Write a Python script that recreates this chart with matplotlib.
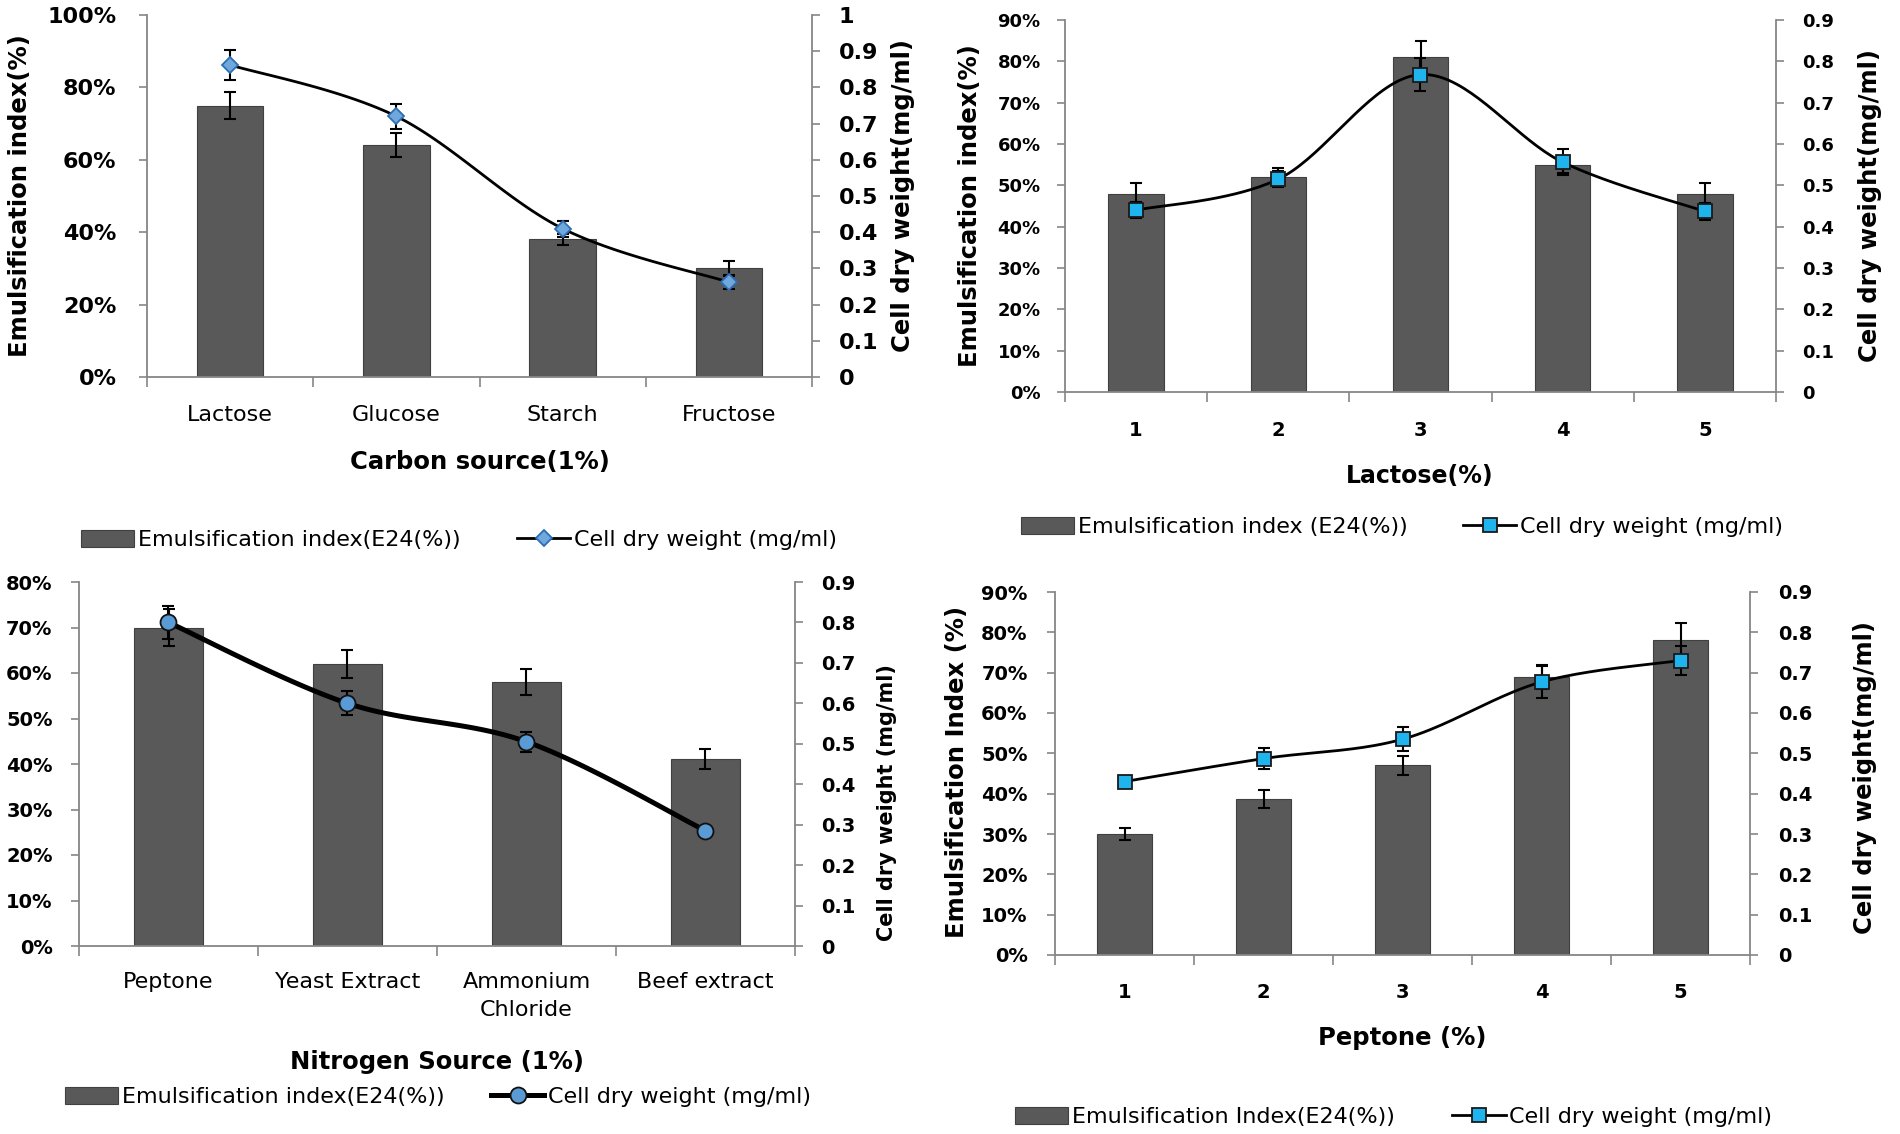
import numpy as np
import matplotlib
matplotlib.use("Agg")
import matplotlib.pyplot as plt
from matplotlib.patches import Patch
from matplotlib.lines import Line2D
from matplotlib.ticker import FixedLocator, NullFormatter, FixedFormatter

plt.rcParams['font.family'] = ['DejaVu Sans']

W, H = 1900, 1134

# ---------------- data ----------------
carbon_sources = ["Lactose", "Glucose", "Starch", "Fructose"]
carbon_ei = [75, 64, 38, 30]
carbon_ei_err = [3.8, 3.3, 1.5, 2.0]
carbon_cdw = [0.862, 0.72, 0.41, 0.262]
carbon_cdw_err = [0.042, 0.035, 0.022, 0.02]

lactose_levels = ["1", "2", "3", "4", "5"]
lactose_ei = [48, 52, 81, 55, 48]
lactose_ei_err = [2.5, 2.2, 4.0, 2.0, 2.5]
lactose_cdw = [0.44, 0.515, 0.768, 0.556, 0.437]
lactose_cdw_err = [0.02, 0.02, 0.04, 0.032, 0.02]

nitrogen_sources = ["Peptone", "Yeast Extract", "Ammonium\nChloride", "Beef extract"]
nitrogen_ei = [70, 62, 58, 41]
nitrogen_ei_err = [4.0, 3.0, 2.8, 2.2]
nitrogen_cdw = [0.80, 0.60, 0.505, 0.285]
nitrogen_cdw_err = [0.04, 0.03, 0.025, 0.01]

peptone_levels = ["1", "2", "3", "4", "5"]
peptone_ei = [30, 38.6, 47, 69, 78]
peptone_ei_err = [1.6, 2.2, 2.4, 3.0, 4.2]
peptone_cdw = [0.43, 0.487, 0.535, 0.677, 0.73]
peptone_cdw_err = [0.012, 0.025, 0.03, 0.04, 0.035]

BAR = '#595959'
BAR_EDGE = '#404040'
AXC = '#868686'

fig = plt.figure(figsize=(19, 11.34), dpi=100)


def smooth(xv, yv, n=40):
    """Excel-like smoothed line (Bezier through the points)."""
    p = np.column_stack([xv, yv]).astype(float)
    pe = np.vstack([p[0], p, p[-1]])
    out = []
    t = np.linspace(0, 1, n)[:, None]
    for i in range(len(p) - 1):
        p0, p1, p2, p3 = pe[i], pe[i + 1], pe[i + 2], pe[i + 3]
        c1 = p1 + (p2 - p0) / 6.0
        c2 = p2 - (p3 - p1) / 6.0
        seg = ((1 - t) ** 3) * p1 + 3 * ((1 - t) ** 2) * t * c1 + 3 * (1 - t) * t ** 2 * c2 + t ** 3 * p2
        out.append(seg if i == 0 else seg[1:])
    s = np.vstack(out)
    return s[:, 0], s[:, 1]


def panel(box, cats, ei, ei_err, cdw, cdw_err, lmax, lstep, rmax,
          marker, ms, mfc, mec, lw, bar_w, lsize, rsize, xsize, xbold, xpad, lpad, rpad):
    l, r, t, b = box
    ax = fig.add_axes([l / W, 1 - b / H, (r - l) / W, (b - t) / H])
    n = len(cats)
    x = np.arange(1, n + 1)
    ax.bar(x, ei, width=bar_w, color=BAR, edgecolor=BAR_EDGE, linewidth=0.8, zorder=2)
    ax.errorbar(x, ei, yerr=ei_err, fmt='none', ecolor='black', elinewidth=1.5,
                capsize=4.5, capthick=1.5, zorder=3)
    ax.set_xlim(0.5, n + 0.5)
    ax.set_ylim(0, lmax)
    ax.xaxis.set_major_locator(FixedLocator(np.arange(0.5, n + 1)))
    ax.xaxis.set_major_formatter(NullFormatter())
    ax.xaxis.set_minor_locator(FixedLocator(x))
    ax.xaxis.set_minor_formatter(FixedFormatter(cats))
    ax.tick_params(axis='x', which='major', direction='out', length=7, width=1.2, color=AXC)
    ax.tick_params(axis='x', which='minor', length=0, pad=xpad, labelsize=xsize)
    for lbl in ax.get_xticklabels(minor=True):
        lbl.set_fontweight('bold' if xbold else 'normal')
        lbl.set_linespacing(1.45)
    yt = list(range(0, lmax + 1, lstep))
    ax.set_yticks(yt)
    ax.set_yticklabels([f"{v}%" for v in yt], fontsize=lsize, fontweight='bold')
    ax.tick_params(axis='y', direction='out', length=6, width=1.2, color=AXC, pad=lpad)
    for s in ['top', 'right']:
        ax.spines[s].set_visible(False)
    for s in ['left', 'bottom']:
        ax.spines[s].set_color(AXC)
        ax.spines[s].set_linewidth(1.3)

    ax2 = ax.twinx()
    ax2.set_ylim(0, rmax)
    rt = np.round(np.arange(0, rmax + 0.001, 0.1), 1)
    ax2.set_yticks(rt)
    ax2.set_yticklabels(["0" if v == 0 else ("1" if v == 1 else f"{v:.1f}") for v in rt],
                        fontsize=rsize, fontweight='bold')
    ax2.tick_params(axis='y', direction='out', length=6, width=1.2, color=AXC, pad=rpad)
    for s in ['top', 'left', 'bottom']:
        ax2.spines[s].set_visible(False)
    ax2.spines['right'].set_color(AXC)
    ax2.spines['right'].set_linewidth(1.3)
    xs, ys = smooth(x, cdw)
    ax2.plot(xs, ys, color='black', lw=lw, zorder=3, solid_capstyle='round')
    ax2.errorbar(x, cdw, yerr=cdw_err, fmt='none', ecolor='black', elinewidth=1.5,
                 capsize=4.5, capthick=1.5, zorder=4)
    ax2.plot(x, cdw, linestyle='none', marker=marker, ms=ms, mfc=mfc, mec=mec, mew=1.3, zorder=5)
    return ax, ax2


def ylab(x, y, text, size):
    fig.text(x / W, 1 - y / H, text, rotation=90, ha='center', va='center',
             fontsize=size, fontweight='bold')


def xlab(x, y, text, size):
    fig.text(x / W, 1 - y / H, text, ha='center', va='center', fontsize=size, fontweight='bold')


def legend(x0, yc, marker, ms, mfc, mec, lw, t1, t2, colsp):
    handles = [Patch(facecolor=BAR, edgecolor=BAR_EDGE, linewidth=0.8),
               Line2D([], [], color='black', lw=lw, marker=marker, ms=ms, mfc=mfc, mec=mec, mew=1.3)]
    fig.legend(handles, [t1, t2], loc='center left', bbox_to_anchor=(x0 / W, 1 - yc / H),
               bbox_transform=fig.transFigure, ncol=2, frameon=False, fontsize=16,
               handlelength=2.4, handletextpad=0.15, columnspacing=colsp,
               borderpad=0, borderaxespad=0, handleheight=0.8)


# ---------------- Panel 1: carbon source ----------------
panel((147, 812, 15, 377), carbon_sources, carbon_ei, carbon_ei_err, carbon_cdw, carbon_cdw_err,
      100, 20, 1.0, 'D', 8.5, '#6FA8DC', '#2E6DB4', 2.0, 0.40, 16, 16, 16, False, 20, 16, 13)
ylab(20, 196, "Emulsification index(%)", 17.5)
ylab(903, 196, "Cell dry weight(mg/ml)", 17.5)
xlab(480, 462, "Carbon source(1%)", 17.5)
legend(81, 540, 'D', 8.5, '#6FA8DC', '#2E6DB4', 2.0,
       "Emulsification index(E24(%))", "Cell dry weight (mg/ml)", 2.55)

# ---------------- Panel 2: lactose ----------------
panel((1065, 1776, 20, 392), lactose_levels, lactose_ei, lactose_ei_err, lactose_cdw, lactose_cdw_err,
      90, 10, 0.9, 's', 10.5, '#1FB4EE', '#1a1a1a', 2.0, 0.39, 13, 13, 14, True, 21, 11.5, 13)
ylab(970, 206, "Emulsification index(%)", 17.5)
ylab(1870, 205, "Cell dry weight(mg/ml)", 17.5)
xlab(1420, 476, "Lactose(%)", 17)
legend(1021, 527, 's', 10.5, '#1FB4EE', '#1a1a1a', 2.0,
       "Emulsification index (E24(%))", "Cell dry weight (mg/ml)", 2.5)

# ---------------- Panel 3: nitrogen source ----------------
panel((79, 795, 582, 946), nitrogen_sources, nitrogen_ei, nitrogen_ei_err, nitrogen_cdw, nitrogen_cdw_err,
      80, 10, 0.9, 'o', 11.5, '#5B9BD5', '#111111', 3.6, 0.385, 14, 14, 16, False, 19, 13, 13)
ylab(887, 803, "Cell dry weight (mg/ml)", 15)
xlab(437, 1062, "Nitrogen Source (1%)", 17.5)
legend(65, 1097, 'o', 11.5, '#5B9BD5', '#111111', 3.6,
       "Emulsification index(E24(%))", "Cell dry weight (mg/ml)", 2.1)

# ---------------- Panel 4: peptone ----------------
panel((1055, 1750, 592, 955), peptone_levels, peptone_ei, peptone_ei_err, peptone_cdw, peptone_cdw_err,
      90, 10, 0.9, 's', 10.5, '#1FB4EE', '#1a1a1a', 2.0, 0.39, 14, 14, 14, True, 20, 13.7, 14)
ylab(957, 772, "Emulsification Index (%)", 17.5)
ylab(1865, 777, "Cell dry weight(mg/ml)", 17.5)
xlab(1402, 1038, "Peptone (%)", 17.5)
legend(1015, 1117, 's', 10.5, '#1FB4EE', '#1a1a1a', 2.0,
       "Emulsification Index(E24(%))", "Cell dry weight (mg/ml)", 2.6)

fig.savefig("out.png", dpi=100)
